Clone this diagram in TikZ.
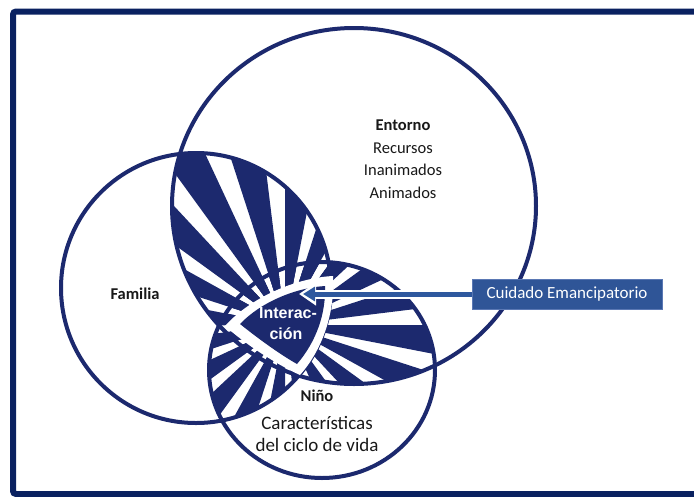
\documentclass[tikz,border=0pt]{standalone}
\usepackage{fontspec}
\setmainfont{Carlito}
\newfontfamily\arialfont{Liberation Sans}
\usetikzlibrary{arrows.meta}
\definecolor{vnavy}{RGB}{28,41,110}
\definecolor{vframe}{RGB}{10,33,96}
\definecolor{vbox}{RGB}{47,85,151}
\definecolor{vboxedge}{RGB}{90,120,180}
\definecolor{varrow}{RGB}{46,88,158}
\definecolor{vtext}{RGB}{25,25,25}
\tikzset{
  ring/.style={draw=vnavy, line width=4},
  lbl/.style={text=vtext, font=\fontsize{16.5}{20}\selectfont, inner sep=0pt},
  lblb/.style={text=vtext, font=\fontsize{16.5}{20}\selectfont\bfseries, inner sep=0pt},
  lbln/.style={text=vtext, font=\fontsize{19}{22}\selectfont, inner sep=0pt},
  cuidbox/.style={fill=vbox, draw=vboxedge, line width=0.8, text=white,
    font=\fontsize{17}{20}\selectfont, minimum width=190, minimum height=30, inner sep=0pt},
  inter/.style={text=white, font=\arialfont\bfseries\fontsize{16}{19}\selectfont, inner sep=0pt}
}
\newcommand\mystripes{\foreach \a in {0,18,...,342}{\fill[vnavy] (C) -- +(\a:420) -- +(\a+11:420) -- cycle;}}
\begin{document}
\begin{tikzpicture}[x=1pt,y=-1pt]
\useasboundingbox (0,0) rectangle (694,496);
\fill[white] (0,0) rectangle (694,496);
\coordinate (C) at (285,325);
% stripes in pairwise intersections
\begin{scope}
  \clip (354,206) ellipse [x radius=182, y radius=178];
  \clip (196,288) circle [radius=135];
  \mystripes
\end{scope}
\begin{scope}
  \clip (354,206) ellipse [x radius=182, y radius=178];
  \clip (322,370) ellipse [x radius=113, y radius=108];
  \mystripes
\end{scope}
\begin{scope}
  \clip (196,288) circle [radius=135];
  \clip (322,370) ellipse [x radius=113, y radius=108];
  \mystripes
\end{scope}
% circles
\draw[ring] (354,206) ellipse [x radius=182, y radius=178];
\draw[ring] (196,288) circle [radius=135];
\draw[ring] (322,370) ellipse [x radius=113, y radius=108];
% shield
\fill[white] (333,276) .. controls (295,278) and (250,298) .. (225,326)
   .. controls (250,348) and (280,366) .. (300,375)
   .. controls (324,348) and (335,310) .. (333,276) -- cycle;
\fill[vnavy] (325,286) .. controls (294,288) and (260,303) .. (240,324)
   .. controls (260,340) and (281,355) .. (297,364)
   .. controls (316,342) and (326,314) .. (325,286) -- cycle;
\node[inter] (int1) at (288,313) {Interac-};
\node[inter] (int2) at (286,334) {ción};
% box and arrow
\node[cuidbox] (cuid) at (567,294) {Cuidado Emancipatorio};
\coordinate (tip) at (303,294);
\coordinate (tipw) at (299,294);
\draw[white, line width=9, -{Triangle[length=17pt, width=22pt]}] (cuid.west) -- (tipw);
\draw[varrow, line width=5, -{Triangle[length=12pt, width=14pt]}] (cuid.west) -- (tip);
% labels
\node[lblb] (ent) at (403,125) {Entorno};
\node[lbl] (rec) at (403,148) {Recursos};
\node[lbl] (inan) at (403,170) {Inanimados};
\node[lbl] (anim) at (403,193) {Animados};
\node[lblb] (fam) at (135,294) {Familia};
\node[lblb] (nino) at (317,396) {Niño};
\node[lbln] (car) at (317,423) {Características};
\node[lbln] (ciclo) at (317,445) {del ciclo de vida};
% frame
\draw[vframe, line width=6, rounded corners=3] (13,11.5) rectangle (720,494);
\end{tikzpicture}
\end{document}
